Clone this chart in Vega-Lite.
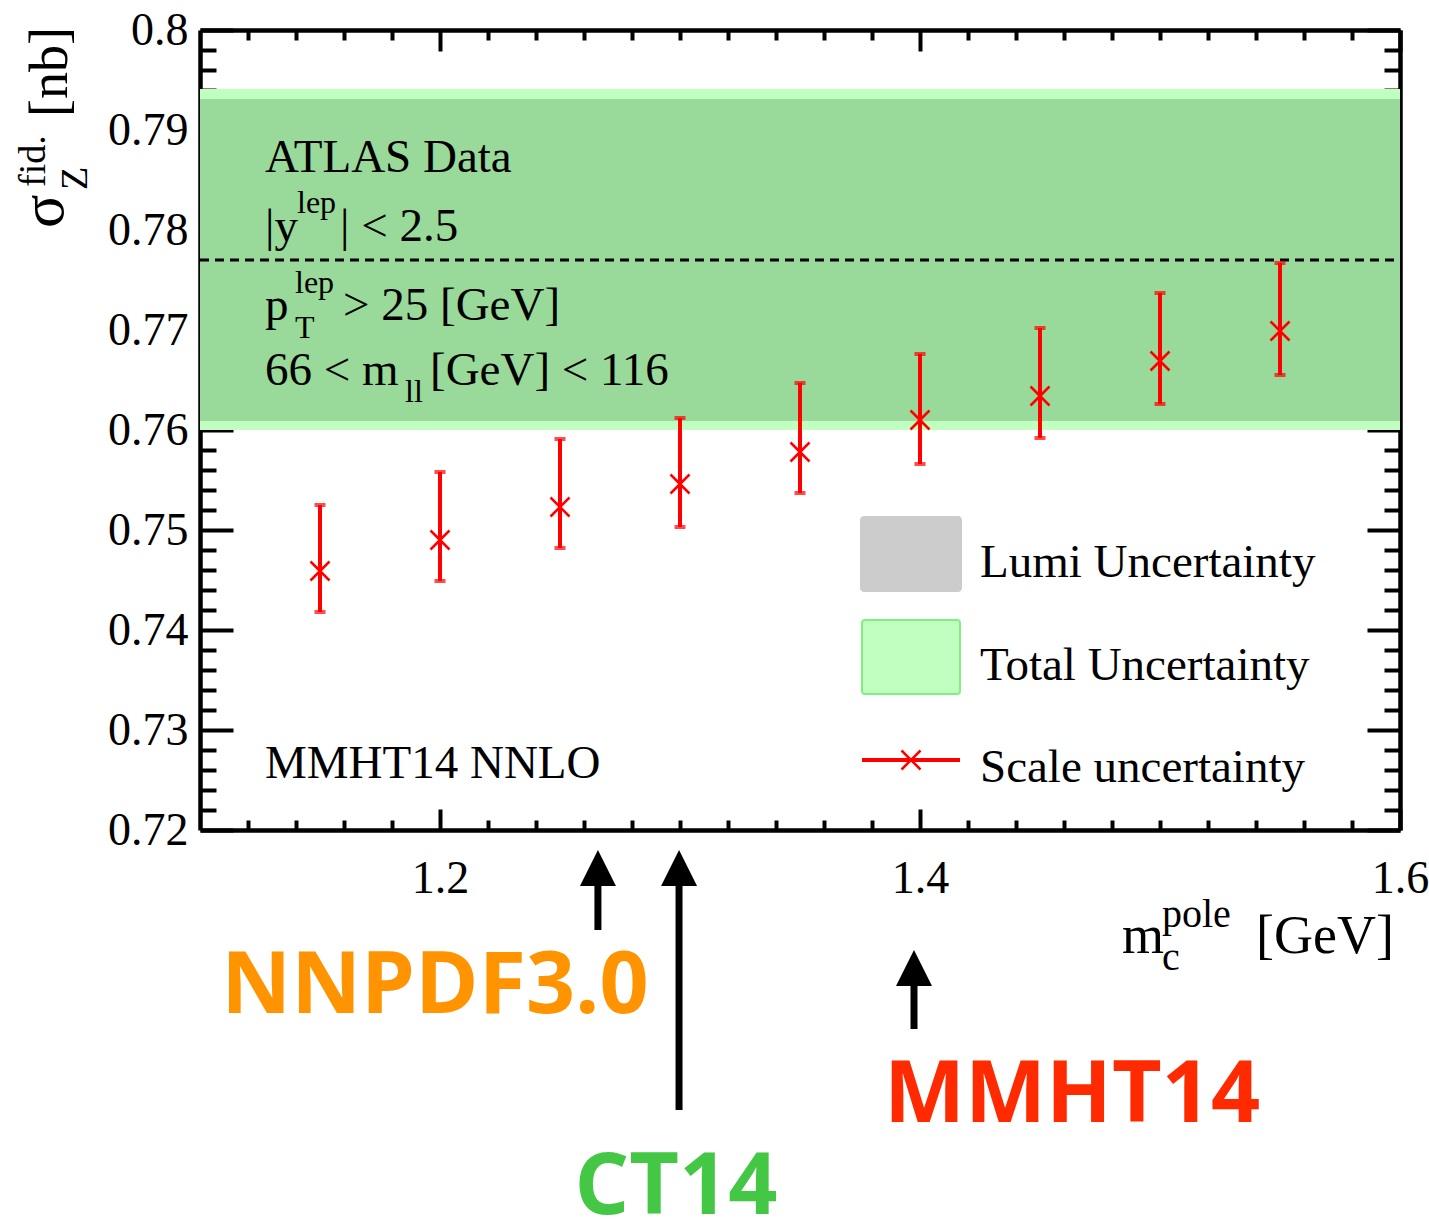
{
  "$schema": "https://vega.github.io/schema/vega-lite/v6.json",
  "width": 1200,
  "height": 800,
  "autosize": {"type": "none"},
  "padding": {"left": 200, "top": 30, "right": 29, "bottom": 391},
  "background": "white",
  "config": {
    "view": {"stroke": null},
    "axis": {"grid": false, "domainColor": "black", "tickColor": "black", "labelFont": "Liberation Serif", "labelFontSize": 46, "labelColor": "black", "zindex": 1, "domainWidth": 4.5, "tickWidth": 4}
  },
  "datasets": {
    "pts": [
      {"mc": 1.15, "sigma": 0.7459, "lo": 0.7418, "hi": 0.7525},
      {"mc": 1.20, "sigma": 0.7490, "lo": 0.7449, "hi": 0.7558},
      {"mc": 1.25, "sigma": 0.7523, "lo": 0.7482, "hi": 0.7591},
      {"mc": 1.30, "sigma": 0.7546, "lo": 0.7503, "hi": 0.7612},
      {"mc": 1.35, "sigma": 0.7578, "lo": 0.7537, "hi": 0.7647},
      {"mc": 1.40, "sigma": 0.7610, "lo": 0.7566, "hi": 0.7676},
      {"mc": 1.45, "sigma": 0.7634, "lo": 0.7592, "hi": 0.7702},
      {"mc": 1.50, "sigma": 0.7669, "lo": 0.7626, "hi": 0.7737},
      {"mc": 1.55, "sigma": 0.7699, "lo": 0.7655, "hi": 0.7767}
    ],
    "total": [{"x1": 1.1, "x2": 1.6, "y1": 0.7600, "y2": 0.7941}],
    "lumi": [{"x1": 1.1, "x2": 1.6, "y1": 0.7609, "y2": 0.7931}],
    "central": [{"x1": 1.1, "x2": 1.6, "y": 0.777}],
    "annMain": [
      {"x": 1.12708, "y": 0.7858, "t": "ATLAS Data"},
      {"x": 1.12708, "y": 0.7789, "t": "|y"},
      {"x": 1.15833, "y": 0.7789, "t": "| < 2.5"},
      {"x": 1.12708, "y": 0.7710, "t": "p"},
      {"x": 1.15958, "y": 0.7710, "t": "> 25 [GeV]"},
      {"x": 1.12708, "y": 0.7645, "t": "66 < m"},
      {"x": 1.19583, "y": 0.7645, "t": "[GeV] < 116"},
      {"x": 1.12708, "y": 0.7252, "t": "MMHT14 NNLO"}
    ],
    "annSmall": [
      {"x": 1.14042, "y": 0.7817, "t": "lep"},
      {"x": 1.13958, "y": 0.7737, "t": "lep"},
      {"x": 1.13958, "y": 0.7692, "t": "T"},
      {"x": 1.18542, "y": 0.7628, "t": "ll"}
    ],
    "legText": [
      {"x": 1.425, "y": 0.7453, "t": "Lumi Uncertainty"},
      {"x": 1.425, "y": 0.7350, "t": "Total Uncertainty"},
      {"x": 1.425, "y": 0.7248, "t": "Scale uncertainty"}
    ],
    "legLumi": [{"x1": 1.375, "x2": 1.4175, "y1": 0.7438, "y2": 0.7514}],
    "legTotal": [{"x1": 1.37583, "x2": 1.41667, "y1": 0.7336, "y2": 0.7410}],
    "legScale": [{"x1": 1.37583, "x2": 1.41667, "xm": 1.39625, "y": 0.727}],
    "yTitleSigma": [
      {"x": 1.04292, "y": 0.7802, "t": "σ"}
    ],
    "yTitleBig": [
      {"x": 1.04458, "y": 0.7913, "t": "[nb]"}
    ],
    "yTitleSmall": [
      {"x": 1.05292, "y": 0.7840, "t": "Z"},
      {"x": 1.03542, "y": 0.7843, "t": "fid."}
    ],
    "xTitleBig": [
      {"x": 1.48417, "y": 0.7077, "t": "m"},
      {"x": 1.5400, "y": 0.7077, "t": "[GeV]"}
    ],
    "xTitleSmall": [
      {"x": 1.50083, "y": 0.7103, "t": "pole"},
      {"x": 1.50083, "y": 0.7060, "t": "c"}
    ],
    "shafts": [
      {"x": 1.2658, "y1": 0.7162, "y2": 0.7100},
      {"x": 1.2996, "y1": 0.7162, "y2": 0.6920},
      {"x": 1.3975, "y1": 0.7062, "y2": 0.7001}
    ],
    "heads": [
      {"x": 1.2658, "y": 0.7162},
      {"x": 1.2996, "y": 0.7162},
      {"x": 1.3975, "y": 0.7062}
    ],
    "pdfs": [
      {"x": 1.19792, "y": 0.7017, "pdf": "NNPDF3.0"},
      {"x": 1.29833, "y": 0.6816, "pdf": "CT14"},
      {"x": 1.46333, "y": 0.6908, "pdf": "MMHT14"}
    ]
  },
  "layer": [
    {
      "data": {"name": "total"},
      "mark": {"type": "rect", "color": "#c0ffc0"},
      "encoding": {
        "x": {"field": "x1", "type": "quantitative", "scale": {"domain": [1.1, 1.6], "nice": false, "zero": false},
              "axis": {"orient": "bottom", "values": [1.2, 1.4, 1.6], "tickSize": -21, "labelPadding": 47, "format": ".1f", "title": null, "labelFlush": false, "labelOverlap": false}},
        "x2": {"field": "x2"},
        "y": {"field": "y1", "type": "quantitative", "scale": {"domain": [0.72, 0.8], "nice": false, "zero": false},
              "axis": {"orient": "left", "values": [0.72, 0.73, 0.74, 0.75, 0.76, 0.77, 0.78, 0.79, 0.8], "tickSize": -33, "labelPadding": 45, "format": ".2~f", "title": null, "labelOverlap": false, "labelFlush": false}},
        "y2": {"field": "y2"}
      }
    },
    {
      "data": {"name": "lumi"},
      "mark": {"type": "rect", "color": "#99d999"},
      "encoding": {
        "x": {"field": "x1", "type": "quantitative", "scale": {"domain": [1.1, 1.6], "nice": false, "zero": false},
              "axis": {"orient": "bottom", "values": [1.12, 1.14, 1.16, 1.18, 1.22, 1.24, 1.26, 1.28, 1.3, 1.32, 1.34, 1.36, 1.38, 1.42, 1.44, 1.46, 1.48, 1.5, 1.52, 1.54, 1.56, 1.58], "tickSize": -10, "labels": false, "domain": false, "title": null}},
        "x2": {"field": "x2"},
        "y": {"field": "y1", "type": "quantitative", "scale": {"domain": [0.72, 0.8], "nice": false, "zero": false},
              "axis": {"orient": "left", "values": [0.722, 0.724, 0.726, 0.728, 0.732, 0.734, 0.736, 0.738, 0.742, 0.744, 0.746, 0.748, 0.752, 0.754, 0.756, 0.758, 0.762, 0.764, 0.766, 0.768, 0.772, 0.774, 0.776, 0.778, 0.782, 0.784, 0.786, 0.788, 0.792, 0.794, 0.796, 0.798], "tickSize": -16, "labels": false, "domain": false, "title": null}},
        "y2": {"field": "y2"}
      }
    },
    {
      "data": {"name": "central"},
      "mark": {"type": "rule", "color": "black", "strokeWidth": 3, "strokeDash": [9, 6]},
      "encoding": {
        "x": {"field": "x1", "type": "quantitative", "scale": {"domain": [1.1, 1.6], "nice": false, "zero": false},
              "axis": {"orient": "top", "values": [1.2, 1.4, 1.6], "tickSize": -21, "labels": false, "title": null}},
        "x2": {"field": "x2"},
        "y": {"field": "y", "type": "quantitative", "scale": {"domain": [0.72, 0.8], "nice": false, "zero": false},
              "axis": {"orient": "right", "values": [0.72, 0.73, 0.74, 0.75, 0.76, 0.77, 0.78, 0.79, 0.8], "tickSize": -33, "labels": false, "title": null}}
      }
    },
    {
      "data": {"name": "pts"},
      "mark": {"type": "rule", "color": "#ff0000", "strokeWidth": 4},
      "encoding": {
        "x": {"field": "mc", "type": "quantitative", "scale": {"domain": [1.1, 1.6], "nice": false, "zero": false},
              "axis": {"orient": "top", "values": [1.12, 1.14, 1.16, 1.18, 1.22, 1.24, 1.26, 1.28, 1.3, 1.32, 1.34, 1.36, 1.38, 1.42, 1.44, 1.46, 1.48, 1.5, 1.52, 1.54, 1.56, 1.58], "tickSize": -10, "labels": false, "domain": false, "title": null}},
        "y": {"field": "lo", "type": "quantitative", "scale": {"domain": [0.72, 0.8], "nice": false, "zero": false},
              "axis": {"orient": "right", "values": [0.722, 0.724, 0.726, 0.728, 0.732, 0.734, 0.736, 0.738, 0.742, 0.744, 0.746, 0.748, 0.752, 0.754, 0.756, 0.758, 0.762, 0.764, 0.766, 0.768, 0.772, 0.774, 0.776, 0.778, 0.782, 0.784, 0.786, 0.788, 0.792, 0.794, 0.796, 0.798], "tickSize": -16, "labels": false, "domain": false, "title": null}},
        "y2": {"field": "hi"}
      }
    },
    {
      "data": {"name": "pts"},
      "mark": {"type": "tick", "orient": "horizontal", "color": "#ff0000", "size": 11, "thickness": 4},
      "encoding": {
        "x": {"field": "mc", "type": "quantitative", "axis": null},
        "y": {"field": "lo", "type": "quantitative", "axis": null}
      }
    },
    {
      "data": {"name": "pts"},
      "mark": {"type": "tick", "orient": "horizontal", "color": "#ff0000", "size": 11, "thickness": 4},
      "encoding": {
        "x": {"field": "mc", "type": "quantitative", "axis": null},
        "y": {"field": "hi", "type": "quantitative", "axis": null}
      }
    },
    {
      "data": {"name": "pts"},
      "mark": {"type": "point", "shape": "M-1,-1L1,1M-1,1L1,-1", "size": 361, "filled": false, "stroke": "#ff0000", "strokeWidth": 2.5, "opacity": 1},
      "encoding": {
        "x": {"field": "mc", "type": "quantitative", "axis": null},
        "y": {"field": "sigma", "type": "quantitative", "axis": null}
      }
    },
    {
      "data": {"name": "annMain"},
      "mark": {"type": "text", "font": "Liberation Serif", "fontSize": 47, "align": "left", "baseline": "alphabetic", "color": "black"},
      "encoding": {
        "x": {"field": "x", "type": "quantitative", "axis": null},
        "y": {"field": "y", "type": "quantitative", "axis": null},
        "text": {"field": "t"}
      }
    },
    {
      "data": {"name": "annSmall"},
      "mark": {"type": "text", "font": "Liberation Serif", "fontSize": 32, "align": "left", "baseline": "alphabetic", "color": "black"},
      "encoding": {
        "x": {"field": "x", "type": "quantitative", "axis": null},
        "y": {"field": "y", "type": "quantitative", "axis": null},
        "text": {"field": "t"}
      }
    },
    {
      "data": {"name": "legLumi"},
      "mark": {"type": "rect", "color": "#cccccc", "cornerRadius": 4},
      "encoding": {
        "x": {"field": "x1", "type": "quantitative", "axis": null},
        "x2": {"field": "x2"},
        "y": {"field": "y1", "type": "quantitative", "axis": null},
        "y2": {"field": "y2"}
      }
    },
    {
      "data": {"name": "legTotal"},
      "mark": {"type": "rect", "fill": "#c0ffc0", "stroke": "#80f080", "strokeWidth": 2, "cornerRadius": 3},
      "encoding": {
        "x": {"field": "x1", "type": "quantitative", "axis": null},
        "x2": {"field": "x2"},
        "y": {"field": "y1", "type": "quantitative", "axis": null},
        "y2": {"field": "y2"}
      }
    },
    {
      "data": {"name": "legScale"},
      "mark": {"type": "rule", "color": "#ff0000", "strokeWidth": 4},
      "encoding": {
        "x": {"field": "x1", "type": "quantitative", "axis": null},
        "x2": {"field": "x2"},
        "y": {"field": "y", "type": "quantitative", "axis": null}
      }
    },
    {
      "data": {"name": "legScale"},
      "mark": {"type": "point", "shape": "M-1,-1L1,1M-1,1L1,-1", "size": 361, "filled": false, "stroke": "#ff0000", "strokeWidth": 2.5, "opacity": 1},
      "encoding": {
        "x": {"field": "xm", "type": "quantitative", "axis": null},
        "y": {"field": "y", "type": "quantitative", "axis": null}
      }
    },
    {
      "data": {"name": "legText"},
      "mark": {"type": "text", "font": "Liberation Serif", "fontSize": 47, "align": "left", "baseline": "alphabetic", "color": "black"},
      "encoding": {
        "x": {"field": "x", "type": "quantitative", "axis": null},
        "y": {"field": "y", "type": "quantitative", "axis": null},
        "text": {"field": "t"}
      }
    },
    {
      "data": {"name": "yTitleSigma"},
      "mark": {"type": "text", "font": "Liberation Serif", "fontSize": 62, "align": "left", "baseline": "alphabetic", "angle": 270, "color": "black"},
      "encoding": {
        "x": {"field": "x", "type": "quantitative", "axis": null},
        "y": {"field": "y", "type": "quantitative", "axis": null},
        "text": {"field": "t"}
      }
    },
    {
      "data": {"name": "yTitleBig"},
      "mark": {"type": "text", "font": "Liberation Serif", "fontSize": 54, "align": "left", "baseline": "alphabetic", "angle": 270, "color": "black"},
      "encoding": {
        "x": {"field": "x", "type": "quantitative", "axis": null},
        "y": {"field": "y", "type": "quantitative", "axis": null},
        "text": {"field": "t"}
      }
    },
    {
      "data": {"name": "yTitleSmall"},
      "mark": {"type": "text", "font": "Liberation Serif", "fontSize": 38, "align": "left", "baseline": "alphabetic", "angle": 270, "color": "black"},
      "encoding": {
        "x": {"field": "x", "type": "quantitative", "axis": null},
        "y": {"field": "y", "type": "quantitative", "axis": null},
        "text": {"field": "t"}
      }
    },
    {
      "data": {"name": "xTitleBig"},
      "mark": {"type": "text", "font": "Liberation Serif", "fontSize": 54, "align": "left", "baseline": "alphabetic", "color": "black"},
      "encoding": {
        "x": {"field": "x", "type": "quantitative", "axis": null},
        "y": {"field": "y", "type": "quantitative", "axis": null},
        "text": {"field": "t"}
      }
    },
    {
      "data": {"name": "xTitleSmall"},
      "mark": {"type": "text", "font": "Liberation Serif", "fontSize": 40, "align": "left", "baseline": "alphabetic", "color": "black"},
      "encoding": {
        "x": {"field": "x", "type": "quantitative", "axis": null},
        "y": {"field": "y", "type": "quantitative", "axis": null},
        "text": {"field": "t"}
      }
    },
    {
      "data": {"name": "shafts"},
      "mark": {"type": "rule", "color": "black", "strokeWidth": 7},
      "encoding": {
        "x": {"field": "x", "type": "quantitative", "axis": null},
        "y": {"field": "y1", "type": "quantitative", "axis": null},
        "y2": {"field": "y2"}
      }
    },
    {
      "data": {"name": "heads"},
      "mark": {"type": "point", "shape": "M0,-1L1,1L-1,1Z", "size": 1296, "filled": true, "color": "black", "opacity": 1},
      "encoding": {
        "x": {"field": "x", "type": "quantitative", "axis": null},
        "y": {"field": "y", "type": "quantitative", "axis": null}
      }
    },
    {
      "data": {"name": "pdfs"},
      "mark": {"type": "text", "font": "Open Sans", "fontWeight": "bold", "fontSize": 86, "align": "center", "baseline": "alphabetic"},
      "encoding": {
        "x": {"field": "x", "type": "quantitative", "axis": null},
        "y": {"field": "y", "type": "quantitative", "axis": null},
        "text": {"field": "pdf"},
        "color": {"field": "pdf", "type": "nominal", "legend": null,
                  "scale": {"domain": ["NNPDF3.0", "CT14", "MMHT14"], "range": ["#ff9400", "#44c744", "#ff2a00"]}}
      }
    }
  ],
  "resolve": {"axis": {"x": "independent", "y": "independent"}}
}
